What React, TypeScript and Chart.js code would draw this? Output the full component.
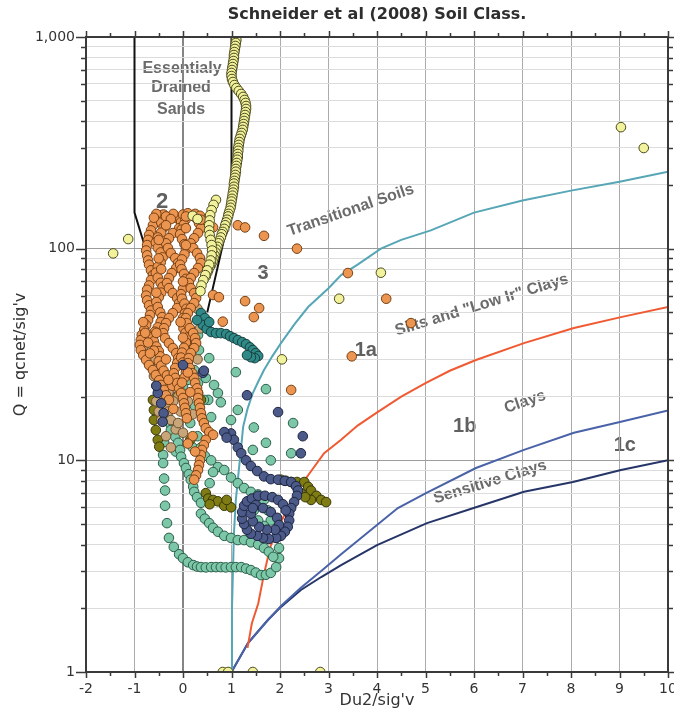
import React, { useEffect, useRef } from 'react';
import { Chart, registerables } from 'chart.js';

Chart.register(...registerables);

type P = [number, number];

// ---- axes ----
const X_MIN = -2;
const X_MAX = 10;
const Q_TICKS = [1, 2, 3, 4, 5, 6, 7, 8, 9, 10, 20, 30, 40, 50, 60, 70, 80, 90, 100, 200, 300, 400, 500, 600, 700, 800, 900, 1000];
const Q_MAJOR = [1, 10, 100, 1000];
const Q_LABELS: Record<number, string> = { 1: '1', 10: '10', 100: '100', 1000: '1,000' };

// ---- zone boundaries (U2, Q) ----
const SANDS_LEFT: P[] = [[-1, 1000], [-1, 148], [-0.76, 98], [-0.6, 72]];
const SANDS_RIGHT: P[] = [[1, 1000], [1, 158], [0.78, 95], [0.5, 50]];
const TRANSITIONAL: P[] = [[1.0, 1.0], [1.01, 2.0], [1.03, 3.0], [1.05, 4.5], [1.09, 6.5], [1.14, 8.5], [1.2, 11.6], [1.24, 14.4], [1.33, 17.5], [1.44, 20.8], [1.55, 23.5], [1.67, 26.7], [1.84, 31], [2.02, 35.8], [2.3, 44], [2.58, 53], [3.0, 65], [3.26, 75], [3.6, 84], [4.08, 100], [4.5, 110], [5.11, 122], [6, 148], [7, 169], [8, 188], [9, 207], [10, 231]];
const SILTS: P[] = [[1.33, 1.3], [1.42, 1.7], [1.55, 2.1], [1.67, 2.9], [1.8, 3.9], [2.0, 5.0], [2.2, 6.2], [2.4, 7.4], [2.58, 8.5], [2.91, 10.8], [3.26, 12.5], [3.6, 14.6], [3.98, 16.7], [4.5, 20], [5.01, 23.2], [5.5, 26.5], [6.04, 29.8], [7.03, 35.8], [8.06, 42.2], [9.03, 47.5], [10, 53]];
const CLAYS: P[] = [[1, 1], [1.34, 1.37], [1.75, 1.76], [2.02, 2.05], [2.43, 2.5], [2.85, 3.0], [3.26, 3.6], [4, 4.95], [4.43, 5.95], [5.01, 7.0], [6.04, 9.2], [7.03, 11.2], [8.06, 13.5], [9.03, 15.2], [10, 17.2]];
const SENSITIVE: P[] = [[1, 1], [1.34, 1.37], [1.75, 1.76], [2.02, 2.03], [2.43, 2.44], [2.85, 2.81], [3.26, 3.2], [4, 3.98], [5.03, 5.05], [6.04, 6.0], [7.03, 7.1], [8.04, 7.9], [9.03, 9.0], [10, 10]];

// ---- CPT soundings (U2, Q) ----
const YELLOW: P[] = [
  [1.09, 1000], [1.1, 968], [1.09, 937], [1.08, 907], [1.07, 878], [1.06, 849], [1.05, 822], [1.05, 796], [1.04, 770], [1.03, 745],
  [1.02, 721], [1.01, 698], [1.0, 676], [1.0, 654], [1.01, 633], [1.03, 613], [1.06, 593], [1.1, 574], [1.15, 556], [1.2, 538],
  [1.24, 521], [1.27, 504], [1.29, 488], [1.3, 472], [1.3, 457], [1.29, 442], [1.28, 428], [1.27, 414], [1.26, 401], [1.25, 388],
  [1.24, 376], [1.23, 364], [1.21, 352], [1.19, 341], [1.17, 330], [1.16, 319], [1.15, 309], [1.14, 299], [1.14, 290], [1.13, 280],
  [1.13, 271], [1.12, 263], [1.11, 254], [1.1, 246], [1.09, 238], [1.09, 231], [1.08, 223], [1.07, 216], [1.06, 209], [1.05, 203],
  [1.05, 196], [1.04, 190], [1.03, 184], [1.02, 178], [1.01, 172], [1.0, 167], [0.99, 161], [0.98, 156], [0.96, 151], [0.94, 146],
  [0.93, 142], [0.91, 137], [0.89, 133], [0.87, 129], [0.85, 124], [0.82, 120], [0.8, 117], [0.78, 113], [0.75, 109], [0.73, 106],
  [0.71, 102], [0.69, 99], [0.67, 96], [0.65, 93], [0.63, 90], [0.61, 87], [0.58, 84], [0.55, 82], [0.52, 79], [0.5, 77], [0.47, 74],
  [0.68, 170], [0.63, 161], [0.59, 152], [0.56, 144], [0.55, 136], [0.54, 129], [0.54, 122], [0.55, 116], [0.57, 110], [0.59, 104],
  [0.6, 98], [0.59, 93], [0.57, 88], [0.54, 84], [0.5, 79], [0.46, 75], [0.42, 71], [0.38, 67], [0.36, 63],
  [0.2, 143], [0.3, 138],
  [-1.44, 95], [-1.13, 111], [9.03, 375], [9.5, 299], [2.04, 30], [3.22, 58], [4.08, 77],
  [0.82, 1], [0.93, 1], [1.44, 1], [2.83, 1],
];

const ORANGE: P[] = [
  // left column
  [-0.45, 144], [-0.54, 136], [-0.62, 129], [-0.66, 122], [-0.7, 116], [-0.72, 110], [-0.74, 104], [-0.76, 98], [-0.74, 93], [-0.72, 88],
  [-0.7, 84], [-0.66, 79], [-0.62, 75], [-0.66, 71], [-0.7, 67], [-0.74, 64], [-0.76, 60], [-0.74, 57], [-0.7, 54], [-0.66, 51],
  [-0.68, 48.6], [-0.72, 46], [-0.76, 43.6], [-0.8, 41.3], [-0.85, 39.1], [-0.87, 37], [-0.89, 35.1], [-0.87, 33.2], [-0.82, 31.4], [-0.76, 29.8],
  [-0.7, 28.2], [-0.62, 26.7], [-0.56, 25.3], [-0.49, 23.9], [-0.45, 22.7], [-0.39, 21.5], [-0.35, 20.3], [-0.29, 19.3],
  // second column
  [-0.5, 141], [-0.45, 133], [-0.4, 126], [-0.45, 119], [-0.52, 113], [-0.56, 107], [-0.52, 101], [-0.46, 96], [-0.42, 91], [-0.46, 86],
  [-0.52, 82], [-0.56, 77], [-0.52, 73], [-0.46, 69], [-0.42, 66], [-0.45, 62], [-0.5, 59], [-0.55, 56], [-0.52, 53], [-0.47, 50],
  [-0.43, 47.5], [-0.46, 45], [-0.52, 42.5], [-0.58, 40.5], [-0.62, 38.5], [-0.6, 36.5], [-0.55, 34.5], [-0.5, 32.8], [-0.47, 31], [-0.5, 29.4],
  [-0.45, 28], [-0.4, 26.5], [-0.33, 25.2], [-0.27, 23.8], [-0.22, 22.5],
  // middle column
  [-0.14, 139.5], [-0.04, 133.6], [-0.08, 125], [-0.21, 118.5], [-0.29, 112], [-0.35, 106], [-0.31, 100.7], [-0.25, 95.3], [-0.16, 90.3], [-0.1, 85.5],
  [-0.14, 81], [-0.23, 76.7], [-0.29, 72.6], [-0.33, 68.8], [-0.29, 65.1], [-0.21, 61.7], [-0.12, 58.4], [-0.08, 55.3], [-0.12, 52.4], [-0.21, 49.6],
  [-0.29, 47], [-0.35, 44.5], [-0.39, 42.1], [-0.41, 39.9], [-0.37, 37.8], [-0.29, 35.8], [-0.21, 33.9], [-0.14, 32.1], [-0.1, 30.4], [-0.12, 28.8],
  [-0.16, 27.3], [-0.19, 25.8], [-0.16, 24.5], [-0.12, 23.2], [-0.08, 21.9], [-0.04, 20.8], [0, 19.7], [0.02, 18.6], [0.04, 17.7], [0.06, 16.7], [0.08, 15.8],
  // fourth column
  [0.0, 145], [0.05, 137], [0.02, 130], [-0.03, 123], [-0.06, 117], [-0.02, 111], [0.03, 105], [0.06, 99], [0.03, 94], [-0.02, 89],
  [-0.06, 84], [-0.03, 80], [0.02, 76], [0.06, 72], [0.04, 68], [0, 64.5], [-0.04, 61], [-0.02, 58], [0.03, 55], [0.07, 52],
  [0.04, 49.5], [0, 47], [-0.02, 44.5], [0.01, 42], [0.05, 40], [0.08, 38], [0.06, 36], [0.02, 34], [-0.02, 32.3], [-0.04, 30.6],
  [0, 29], [0.04, 27.5], [0.06, 26], [0.03, 24.6], [-0.02, 23.3],
  // right column
  [0.16, 144], [0.27, 139.5], [0.33, 132], [0.37, 125], [0.31, 118.5], [0.23, 112], [0.16, 106], [0.21, 100.7], [0.29, 95.3], [0.35, 90.3],
  [0.37, 85.5], [0.31, 81], [0.23, 76.7], [0.16, 72.6], [0.12, 68.8], [0.16, 65.1], [0.23, 61.7], [0.27, 58.4], [0.23, 55.3], [0.16, 52.4],
  [0.1, 49.6], [0.06, 47], [0.08, 44.5], [0.14, 42.1], [0.21, 39.9], [0.25, 37.8], [0.27, 35.8], [0.23, 33.9], [0.16, 32.1], [0.12, 30.4],
  [0.1, 28.8], [0.14, 27.3], [0.19, 25.8], [0.23, 24.5], [0.25, 23.2], [0.29, 21.9], [0.31, 20.8], [0.31, 19.7], [0.33, 18.6], [0.35, 17.7],
  [0.37, 16.7], [0.39, 15.8], [0.43, 15], [0.47, 14.2], [0.54, 13.6], [0.62, 13.2], [0.47, 12.5], [0.43, 11.8], [0.39, 11.2], [0.37, 10.6],
  [0.35, 10], [0.33, 9.5], [0.31, 9], [0.27, 8.5], [0.23, 8.1],
  // top of the cluster and fill between columns
  [-0.4, 145], [-0.2, 146], [0.1, 147], [0.25, 146], [-0.55, 146], [0.35, 143],
  [-0.6, 140], [-0.35, 142], [-0.25, 138], [0.06, 142], [0.37, 137], [-0.35, 129], [0.06, 125], [-0.5, 110], [0.06, 104], [-0.5, 90],
  [-0.45, 80], [0.0, 70], [-0.55, 62], [-0.05, 45], [-0.55, 40], [0.0, 38], [-0.6, 33], [-0.35, 30], [0.1, 26], [-0.3, 24], [0.15, 21],
  [-0.2, 17.5], [0.2, 13], [0.1, 12], [0.25, 11], [-0.82, 45], [-0.78, 40], [-0.72, 36], [-0.68, 32],
  // scattered
  [1.13, 129], [1.28, 126], [1.67, 115], [2.35, 100], [3.4, 76.7], [4.19, 58], [1.28, 56.5], [1.57, 52.4], [1.46, 47.5], [3.48, 31],
  [2.23, 21.5], [4.7, 44.5], [0.62, 126], [0.62, 60.4], [0.74, 59], [0.82, 45.2],
];

const TAN: P[] = [
  [-0.8, 35], [-0.75, 31], [-0.68, 28], [-0.6, 25], [-0.55, 22.5], [-0.5, 21], [-0.42, 19.5], [-0.35, 18], [-0.3, 17], [-0.6, 30],
  [-0.45, 27], [-0.35, 24], [-0.2, 22], [-0.1, 20], [-0.25, 15.5], [-0.15, 14], [0.3, 30], [0.05, 34], [0.35, 42], [0.3, 52],
  [-0.55, 19], [-0.5, 17], [-0.45, 15.5], [-0.3, 21], [-0.2, 19], [-0.05, 17], [0.1, 19], [0.2, 16.5], [-0.1, 15], [0.0, 13.5],
  [-0.35, 13], [-0.25, 11.5],
];

const DARK_TEAL: P[] = [
  [0.37, 49.6], [0.45, 47], [0.41, 43.6], [0.49, 41.8], [0.58, 40.4], [0.68, 39.9], [0.78, 39.9], [0.89, 39.5], [0.97, 38.6], [1.05, 37.8],
  [1.13, 37], [1.22, 36.2], [1.3, 35.4], [1.38, 34.2], [1.44, 33.2], [1.5, 32.1], [1.55, 31.1], [1.48, 30.4], [1.4, 30.7], [1.32, 31.4],
  [0.29, 46], [0.54, 45],
];

const MINT: P[] = [
  // right of the main column
  [0.31, 39.1], [0.33, 33.2], [0.54, 30.4], [0.16, 30.7], [0.23, 26.7], [0.31, 23.2], [0.16, 24.7], [0.47, 24.5], [0.52, 19.3], [0.72, 20.8],
  [0.78, 18.8], [1.09, 26.1], [1.13, 17.3], [0.58, 16], [1.46, 14.3], [1.71, 21.7], [1.71, 12.1], [2.27, 15], [2.23, 10.8], [1.44, 11.2],
  [1.81, 10], [0.99, 15.5], [0.43, 19.3], [0.64, 22.7],
  [0.0, 22.5], [0.1, 24], [0.25, 18], [0.15, 15], [-0.15, 11], [0.2, 11.5], [0.3, 13],
  // left sounding dropping to the base
  [-0.31, 16], [-0.25, 14.7], [-0.39, 12.2], [-0.41, 10.6], [-0.41, 9.7], [-0.39, 8.2], [-0.37, 7.2], [-0.37, 6.1], [-0.33, 5.05], [-0.29, 4.3],
  [-0.19, 3.9], [-0.08, 3.6], [0, 3.45], [0.1, 3.3], [0.21, 3.2], [0.29, 3.15], [0.37, 3.13], [0.47, 3.12], [0.58, 3.13], [0.68, 3.13],
  [0.78, 3.13], [0.88, 3.12], [0.99, 3.13], [1.09, 3.13], [1.2, 3.13], [1.3, 3.08], [1.4, 3.03], [1.5, 2.95], [1.61, 2.87], [1.71, 2.88],
  [1.81, 2.94], [1.92, 3.13], [1.98, 3.45], [1.98, 3.85], [1.92, 4.3],
  // middle sounding
  [-0.25, 13.9], [-0.16, 12.9], [-0.1, 12.1], [-0.06, 11.2], [-0.04, 10.4], [0.02, 9.7], [0.06, 9.2], [0.12, 8.6], [0.16, 8.1], [0.21, 7.5],
  [0.23, 7.1], [0.29, 6.7], [0.37, 6.3], [0.37, 5.6], [0.45, 5.3], [0.54, 5.05], [0.62, 4.8], [0.72, 4.6], [0.85, 4.4], [0.99, 4.3],
  [1.13, 4.2], [1.26, 4.2], [1.4, 4.1], [1.55, 4.0], [1.67, 3.85], [1.77, 3.7], [1.86, 3.5],
  // inner sounding
  [0.37, 11.5], [0.45, 10.5], [0.58, 10], [0.72, 9.3], [0.85, 9.0], [0.99, 8.3], [1.13, 7.8], [1.26, 7.4], [1.4, 7.1], [1.55, 6.9],
  [1.67, 6.5], [1.75, 5.8], [1.81, 5.2], [1.67, 4.9], [1.55, 5.2], [1.46, 5.8], [0.55, 7.8], [0.62, 8.8],
];

const NAVY: P[] = [
  // outer loop
  [0.99, 13.4], [1.05, 12.5], [1.13, 11.5], [1.2, 10.8], [1.3, 10], [1.4, 9.4], [1.53, 8.9], [1.67, 8.4], [1.81, 8.15], [1.96, 8.1],
  [2.1, 8.0], [2.23, 7.9], [2.33, 7.55], [2.37, 7.2], [2.35, 6.8], [2.29, 6.35], [2.23, 5.95], [2.19, 5.6], [2.19, 5.2], [2.16, 4.85],
  [2.1, 4.6], [2.02, 4.4], [1.92, 4.3], [1.77, 4.25], [1.65, 4.3], [1.53, 4.4], [1.4, 4.5], [1.32, 4.7], [1.26, 5.0], [1.22, 5.3],
  [1.22, 5.7], [1.26, 6.1], [1.32, 6.4], [1.42, 6.6], [1.55, 6.8], [1.69, 6.8], [1.84, 6.7], [1.96, 6.5], [2.06, 6.2], [2.12, 5.8],
  // inner loop
  [1.5, 6.15], [1.65, 5.95], [1.81, 5.7], [1.94, 5.35], [1.98, 4.95], [1.9, 4.7], [1.73, 4.7], [1.57, 4.85], [1.44, 5.15], [1.4, 5.6], [1.44, 5.95],
  // scattered
  [1.32, 20.3], [1.96, 16.9], [2.47, 13.0], [2.43, 10.8], [-0.52, 20.8], [-0.45, 18.6], [-0.4, 16.7], [-0.42, 15.2], [0, 28.2], [0.41, 25.9],
  [0.43, 26.5], [-0.55, 22.5], [0.85, 13.6], [0.9, 12.8],
];

const OLIVE: P[] = [
  [-0.62, 19.3], [-0.6, 17.3], [-0.6, 15.5], [-0.56, 13.9], [-0.52, 12.5], [-0.49, 11.6],
  [0.23, 37], [0.21, 34.5], [0.31, 20.8], [0.37, 19.3], [-0.1, 24], [0.05, 28], [-0.25, 20], [0.15, 12.5],
  [0.47, 7.0], [0.52, 6.6], [0.62, 6.5], [0.72, 6.4], [0.85, 6.1], [0.99, 6.0], [0.55, 6.2], [0.9, 6.5],
  [2.02, 8.1], [2.12, 8.0], [2.23, 7.9], [2.35, 7.9], [2.5, 7.9], [2.58, 7.5], [2.64, 7.2], [2.75, 6.8], [2.85, 6.5], [2.95, 6.35],
  [2.64, 6.5], [2.43, 7.0], [2.52, 6.7],
];

// ---- chart text ----
const ZONE_TEXT: { text: string; x: number; q: number; size: number; angle: number }[] = [
  { text: 'Essentialy', x: -0.02, q: 713, size: 16, angle: 0 },
  { text: 'Drained', x: -0.04, q: 574, size: 16, angle: 0 },
  { text: 'Sands', x: -0.04, q: 456, size: 16, angle: 0 },
  { text: 'Transitional Soils', x: 3.46, q: 152, size: 16, angle: -19 },
  { text: 'Silts and "Low Ir" Clays', x: 6.16, q: 54.2, size: 16, angle: -17 },
  { text: 'Clays', x: 7.05, q: 18.9, size: 16, angle: -19 },
  { text: 'Sensitive Clays', x: 6.33, q: 7.9, size: 16, angle: -17 },
];
const ZONE_IDS: { text: string; x: number; q: number; size: number }[] = [
  { text: '2', x: -0.43, q: 166, size: 22 },
  { text: '3', x: 1.65, q: 76.7, size: 20 },
  { text: '1a', x: 3.77, q: 33.2, size: 20 },
  { text: '1b', x: 5.81, q: 14.4, size: 20 },
  { text: '1c', x: 9.11, q: 11.8, size: 20 },
];
const TITLE = 'Schneider et al (2008) Soil Class.';
const X_TITLE = 'Du2/sig\'v';
const Y_TITLE = 'Q = qcnet/sig\'v';

const toXY = (pts: P[]) => pts.map(([x, y]) => ({ x, y }));

const pointSet = (label: string, pts: P[], fill: string, stroke: string, order: number) => ({
  type: 'scatter' as const,
  label,
  data: toXY(pts),
  backgroundColor: fill,
  borderColor: stroke,
  borderWidth: 1,
  pointRadius: 4.8,
  pointHoverRadius: 4.8,
  showLine: false,
  clip: 0,
  order,
});

const lineSet = (label: string, pts: P[], color: string, width: number, order: number) => ({
  type: 'scatter' as const,
  label,
  data: toXY(pts),
  borderColor: color,
  backgroundColor: color,
  borderWidth: width,
  pointRadius: 0,
  showLine: true,
  fill: false,
  tension: 0,
  clip: 0,
  order,
});

const textPlugin = {
  id: 'soilText',
  beforeDraw(chart: any) {
    const { ctx } = chart;
    const xs = chart.scales.x;
    const ys = chart.scales.y;
    ctx.save();
    ctx.textAlign = 'center';
    ctx.textBaseline = 'middle';
    ctx.fillStyle = '#6b6b6b';
    for (const t of ZONE_TEXT) {
      const px = xs.getPixelForValue(t.x);
      const py = ys.getPixelForValue(t.q);
      ctx.save();
      ctx.translate(px, py);
      ctx.rotate((t.angle * Math.PI) / 180);
      ctx.font = `bold ${t.size}px "Liberation Sans", Arial, sans-serif`;
      ctx.fillText(t.text, 0, 0);
      ctx.restore();
    }
    ctx.fillStyle = '#606060';
    for (const t of ZONE_IDS) {
      ctx.font = `bold ${t.size}px "Liberation Sans", Arial, sans-serif`;
      ctx.fillText(t.text, xs.getPixelForValue(t.x), ys.getPixelForValue(t.q));
    }
    ctx.restore();
  },
  afterDraw(chart: any) {
    const { ctx, chartArea } = chart;
    const { left, right, top, bottom } = chartArea;
    const xs = chart.scales.x;
    const ys = chart.scales.y;
    ctx.save();
    ctx.strokeStyle = '#3a3a3a';
    ctx.lineWidth = 1.5;
    ctx.beginPath();
    for (const v of Q_TICKS) {
      const py = Math.round(ys.getPixelForValue(v)) + 0.5;
      const len = Q_MAJOR.includes(v) ? 10 : 5;
      ctx.moveTo(left - len, py);
      ctx.lineTo(left, py);
      ctx.moveTo(right, py);
      ctx.lineTo(right + len, py);
    }
    for (let v = X_MIN; v <= X_MAX + 1e-9; v += 0.5) {
      const px = Math.round(xs.getPixelForValue(v)) + 0.5;
      const len = Number.isInteger(v) ? 6 : 4;
      ctx.moveTo(px, bottom);
      ctx.lineTo(px, bottom + len);
      ctx.moveTo(px, top - len);
      ctx.lineTo(px, top);
    }
    ctx.stroke();
    ctx.lineWidth = 2;
    ctx.strokeRect(left, top, right - left, bottom - top);

    ctx.fillStyle = '#2e2e2e';
    ctx.textAlign = 'center';
    ctx.textBaseline = 'middle';
    ctx.font = 'bold 16px "DejaVu Sans", Verdana, sans-serif';
    ctx.fillText(TITLE, (left + right) / 2, 15);
    ctx.fillStyle = '#333333';
    ctx.font = '16px "DejaVu Sans", Verdana, sans-serif';
    ctx.fillText(X_TITLE, (left + right) / 2, 701);
    ctx.save();
    ctx.translate(21, (top + bottom) / 2);
    ctx.rotate(-Math.PI / 2);
    ctx.fillText(Y_TITLE, 0, 0);
    ctx.restore();
    ctx.restore();
  },
};

export default function App() {
  const canvasRef = useRef<HTMLCanvasElement | null>(null);

  useEffect(() => {
    if (!canvasRef.current) return;
    const chart = new Chart(canvasRef.current, {
      type: 'scatter',
      data: {
        datasets: [
          pointSet('CPT 7', YELLOW, '#f3f29c', '#4b4a1e', 1),
          pointSet('CPT 6', NAVY, '#4c5a8a', '#1d2540', 2),
          pointSet('CPT 5', DARK_TEAL, '#2f8a87', '#173f3e', 3),
          pointSet('CPT 4', ORANGE, '#eb9550', '#774014', 4),
          pointSet('CPT 3', TAN, '#c9a57a', '#6b5030', 5),
          pointSet('CPT 2', OLIVE, '#7f7c14', '#383808', 6),
          pointSet('CPT 1', MINT, '#7cc7a7', '#2b5d4a', 7),
          lineSet('sands left', SANDS_LEFT, '#111111', 2, 10),
          lineSet('sands right', SANDS_RIGHT, '#111111', 2, 10),
          lineSet('transitional', TRANSITIONAL, '#56a6b6', 2, 10),
          lineSet('silts', SILTS, '#f05a32', 2, 10),
          lineSet('clays', CLAYS, '#4a62a8', 2, 10),
          lineSet('sensitive', SENSITIVE, '#263567', 2, 10),
        ] as any,
      },
      options: {
        responsive: false,
        animation: false,
        events: [],
        layout: { padding: { top: 37, right: 6, left: 0, bottom: 0 } },
        plugins: {
          legend: { display: false },
          tooltip: { enabled: false },
          title: { display: false },
        },
        scales: {
          x: {
            type: 'linear',
            min: X_MIN,
            max: X_MAX,
            ticks: {
              stepSize: 1,
              autoSkip: false,
              maxRotation: 0,
              padding: 9,
              color: '#333333',
              font: { family: '"DejaVu Sans", Verdana, sans-serif', size: 14 },
              callback: (v: any) => String(v),
            },
            grid: {
              drawTicks: false,
              color: (c: any) => (c.tick && c.tick.value === 0 ? '#858585' : '#ababab'),
              lineWidth: (c: any) => (c.tick && c.tick.value === 0 ? 2 : 1),
            },
            border: { display: false },
            afterFit: (s: any) => {
              s.height = 47;
              s.paddingLeft = 0;
              s.paddingRight = 0;
            },
          },
          y: {
            type: 'logarithmic',
            min: 1,
            max: 1000,
            afterBuildTicks: (s: any) => {
              s.ticks = Q_TICKS.map((v) => ({ value: v, major: Q_MAJOR.includes(v) }));
            },
            ticks: {
              autoSkip: false,
              padding: 11,
              color: '#333333',
              font: { family: '"DejaVu Sans", Verdana, sans-serif', size: 14 },
              callback: (v: any) => Q_LABELS[Number(v)] ?? '',
            },
            grid: {
              drawTicks: false,
              color: (c: any) => (c.tick && Q_MAJOR.includes(c.tick.value) ? '#9c9c9c' : '#dcdcdc'),
              lineWidth: 1,
            },
            border: { display: false },
            afterFit: (s: any) => {
              s.width = 86;
              s.paddingTop = 0;
              s.paddingBottom = 0;
            },
          },
        },
      },
      plugins: [textPlugin],
    } as any);
    return () => chart.destroy();
  }, []);

  return (
    <div style={{ position: 'fixed', left: 0, top: 0, width: 674, height: 719, background: '#ffffff' }}>
      <canvas ref={canvasRef} width={674} height={719} style={{ display: 'block' }} />
    </div>
  );
}
